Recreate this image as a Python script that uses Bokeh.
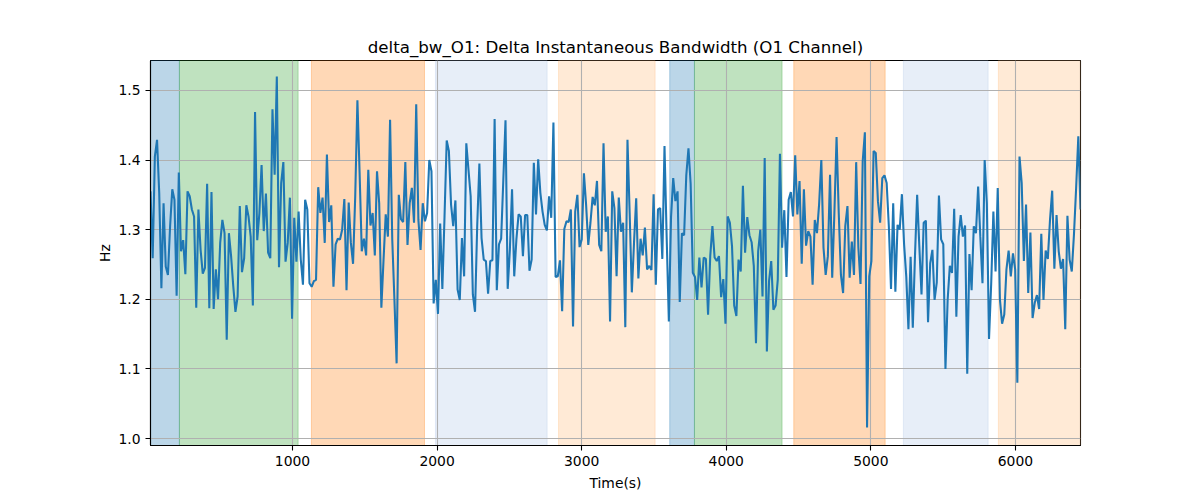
import numpy as np
from bokeh.plotting import figure
from bokeh.models import Range1d, BoxAnnotation, FixedTicker, PrintfTickFormatter
from bokeh.embed import file_html
from bokeh.resources import INLINE

TITLE = "delta_bw_O1: Delta Instantaneous Bandwidth (O1 Channel)"
X_LABEL = "Time(s)"
Y_LABEL = "Hz"

T_START = 18
T_END = 6450

values = [
    1.355, 1.259, 1.405, 1.429, 1.353, 1.216, 1.338, 1.247, 1.235, 1.305,
    1.358, 1.343, 1.205, 1.382, 1.269, 1.285, 1.236, 1.355, 1.348, 1.329,
    1.319, 1.188, 1.329, 1.271, 1.237, 1.245, 1.366, 1.187, 1.354, 1.186,
    1.243, 1.200, 1.281, 1.314, 1.295, 1.142, 1.295, 1.262, 1.219, 1.182,
    1.204, 1.334, 1.239, 1.259, 1.335, 1.319, 1.290, 1.191, 1.469, 1.285,
    1.324, 1.393,
    1.298, 1.352, 1.267, 1.259, 1.473, 1.379, 1.520, 1.246, 1.367, 1.397,
    1.254, 1.281, 1.346, 1.172, 1.317, 1.254, 1.326, 1.257, 1.221, 1.343,
    1.329, 1.223, 1.218, 1.226, 1.228, 1.361, 1.324, 1.346, 1.281, 1.408,
    1.311, 1.335, 1.218, 1.279, 1.287, 1.286, 1.300, 1.344, 1.213, 1.339,
    1.281, 1.251, 1.348, 1.486, 1.382, 1.269, 1.287, 1.263, 1.386, 1.306,
    1.324, 1.263, 1.384,
    1.338, 1.188, 1.257, 1.322, 1.290, 1.458, 1.286, 1.199, 1.108, 1.350,
    1.315, 1.311, 1.397, 1.278, 1.338, 1.360, 1.310, 1.480, 1.314, 1.271,
    1.338, 1.312, 1.324, 1.400, 1.384, 1.194, 1.228, 1.179, 1.309, 1.215,
    1.319, 1.428, 1.413, 1.336, 1.305, 1.342, 1.214, 1.199, 1.288, 1.233,
    1.424, 1.386, 1.348, 1.207, 1.182, 1.305, 1.395, 1.288, 1.257, 1.255,
    1.208, 1.255, 1.256, 1.459,
    1.213, 1.279, 1.287, 1.372, 1.457, 1.215, 1.271, 1.358, 1.233, 1.286,
    1.322, 1.319, 1.262, 1.321, 1.321, 1.241, 1.257, 1.396, 1.322, 1.401,
    1.353, 1.326, 1.307, 1.299, 1.348, 1.317, 1.454, 1.232, 1.233, 1.256,
    1.183, 1.301, 1.312, 1.311, 1.329, 1.161, 1.326, 1.350, 1.275, 1.286,
    1.381, 1.336, 1.278, 1.310, 1.347, 1.335, 1.370, 1.278, 1.269, 1.424,
    1.297, 1.319, 1.168, 1.355,
    1.331, 1.233, 1.346, 1.297, 1.310, 1.160, 1.429, 1.324, 1.210, 1.281,
    1.345, 1.230, 1.287, 1.263, 1.303, 1.243, 1.248, 1.242, 1.351, 1.221,
    1.329, 1.331, 1.258, 1.420, 1.288, 1.168, 1.318, 1.374, 1.341, 1.355,
    1.196, 1.295, 1.292, 1.378, 1.417, 1.366, 1.238, 1.232, 1.199, 1.260,
    1.217, 1.260, 1.258, 1.178, 1.262, 1.305, 1.260, 1.255, 1.262, 1.203,
    1.229, 1.165, 1.319,
    1.310, 1.276, 1.191, 1.176, 1.257, 1.240, 1.363, 1.267, 1.318, 1.292,
    1.282, 1.248, 1.137, 1.269, 1.300, 1.204, 1.403, 1.125, 1.226, 1.255,
    1.185, 1.191, 1.228, 1.409, 1.274, 1.328, 1.232, 1.343, 1.354, 1.319,
    1.407, 1.322, 1.370, 1.251, 1.358, 1.277, 1.298, 1.290, 1.221, 1.314,
    1.295, 1.337, 1.400, 1.274, 1.235, 1.262, 1.379, 1.231, 1.324, 1.433,
    1.324, 1.235, 1.209, 1.305,
    1.334, 1.231, 1.283, 1.235, 1.397, 1.275, 1.222, 1.398, 1.440, 1.016,
    1.233, 1.255, 1.413, 1.410, 1.341, 1.310, 1.374, 1.378, 1.367, 1.305,
    1.215, 1.338, 1.211, 1.307, 1.300, 1.351, 1.279, 1.233, 1.157, 1.261,
    1.159, 1.262, 1.350, 1.276, 1.207, 1.310, 1.313, 1.167, 1.252, 1.271,
    1.199, 1.224, 1.349, 1.286, 1.279, 1.100, 1.199, 1.248, 1.238, 1.330,
    1.175, 1.290, 1.321,
    1.290, 1.306, 1.093, 1.265, 1.213, 1.305, 1.295, 1.362, 1.290, 1.223,
    1.400, 1.338, 1.143, 1.223, 1.326, 1.240, 1.360, 1.200, 1.165, 1.178,
    1.243, 1.270, 1.233, 1.266, 1.243, 1.080, 1.405, 1.367, 1.255, 1.336,
    1.209, 1.296, 1.173, 1.195, 1.206, 1.186, 1.294, 1.199, 1.270, 1.258,
    1.314, 1.356, 1.244, 1.321, 1.269, 1.244, 1.258, 1.157, 1.320, 1.257,
    1.240, 1.293, 1.360, 1.434, 1.329,
]

# uniformly sampled time axis
times = np.linspace(T_START, T_END, len(values))

span_starts = [18, 218, 1131, 1989, 2840, 3609, 3780, 4467, 5225, 5882]
span_ends = [218, 1039, 1913, 2761, 3508, 3780, 4386, 5099, 5811, 6450]
span_colors = ["#1f77b4", "#2ca02c", "#ff7f0e", "#aec7e8", "#ffbb78",
               "#1f77b4", "#2ca02c", "#ff7f0e", "#aec7e8", "#ffbb78"]

x_ticks = [1000, 2000, 3000, 4000, 5000, 6000]
y_ticks = [1.0, 1.1, 1.2, 1.3, 1.4, 1.5]

FONT = "DejaVu Sans"

p = figure(
    frame_width=930, frame_height=385,
    min_border_left=150, min_border_right=104,
    min_border_top=60, min_border_bottom=40,
    x_range=Range1d(T_START, T_END), y_range=Range1d(0.990, 1.543),
    output_backend="svg", toolbar_location=None,
    title=TITLE,
)
p.background_fill_color = "white"
p.border_fill_color = "white"
p.outline_line_color = "black"
p.outline_line_width = 1.1

p.title.align = "center"
p.title.text_font = FONT
p.title.text_font_size = "16.67px"
p.title.text_font_style = "normal"
p.title.text_color = "black"
p.title.standoff = 8

for s, e, c in zip(span_starts, span_ends, span_colors):
    box = BoxAnnotation(left=s, right=e, fill_color=c, fill_alpha=0.3,
                        line_color=c, line_alpha=0.3, line_width=1, level="image")
    p.add_layout(box)

p.line(times, values, line_color="#1f77b4", line_width=2.08)

for g in (p.xgrid[0], p.ygrid[0]):
    g.grid_line_color = "#b0b0b0"
    g.grid_line_width = 1.1
    g.grid_line_alpha = 1.0

p.xaxis.ticker = FixedTicker(ticks=x_ticks)
p.yaxis.ticker = FixedTicker(ticks=y_ticks)
p.yaxis.formatter = PrintfTickFormatter(format="%.1f")
p.xaxis.axis_label = X_LABEL
p.yaxis.axis_label = Y_LABEL

for ax in (p.xaxis[0], p.yaxis[0]):
    ax.axis_line_color = "black"
    ax.axis_line_width = 1.1
    ax.major_tick_line_color = "black"
    ax.major_tick_line_width = 1.1
    ax.major_tick_out = 5
    ax.major_tick_in = 0
    ax.minor_tick_line_color = None
    ax.major_label_text_font = FONT
    ax.major_label_text_font_size = "13.9px"
    ax.major_label_text_color = "black"
    ax.major_label_standoff = 5
    ax.axis_label_text_font = FONT
    ax.axis_label_text_font_size = "13.9px"
    ax.axis_label_text_font_style = "normal"
    ax.axis_label_text_color = "black"
    ax.axis_label_standoff = 6
p.yaxis[0].axis_label_standoff = 2

open("out.html", "w").write(file_html(p, INLINE))
